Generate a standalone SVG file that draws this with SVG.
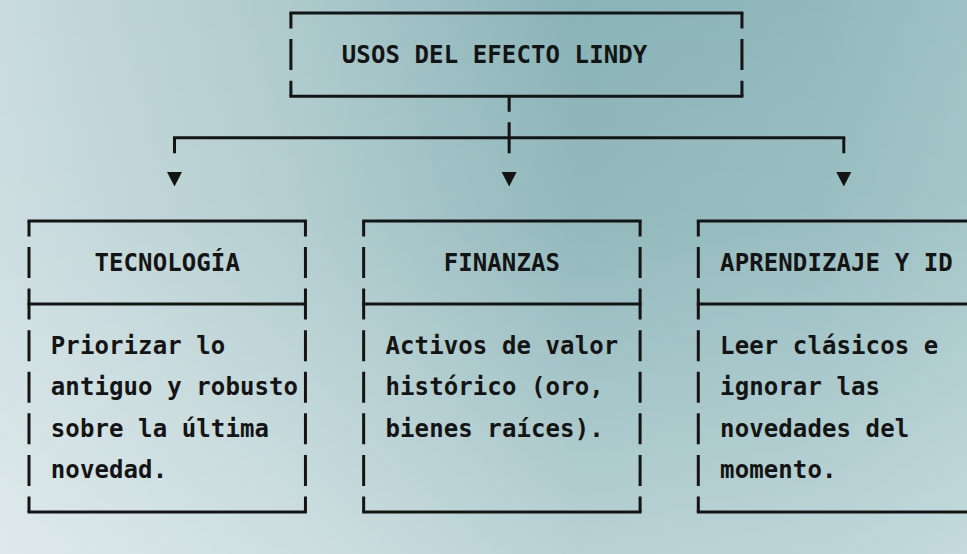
<svg xmlns="http://www.w3.org/2000/svg" width="967" height="554" viewBox="0 0 967 554">
  <defs>
    <linearGradient id="bg" x1="0" y1="0" x2="1" y2="0">
      <stop offset="0" stop-color="#c9dbde"/>
      <stop offset="0.3" stop-color="#aecacd"/>
      <stop offset="0.6" stop-color="#89b3b7"/>
      <stop offset="0.85" stop-color="#91b9bd"/>
      <stop offset="1" stop-color="#9ec2c5"/>
    </linearGradient>
    <linearGradient id="fade" x1="0" y1="0" x2="0" y2="1">
      <stop offset="0" stop-color="#ffffff" stop-opacity="0"/>
      <stop offset="0.4" stop-color="#ffffff" stop-opacity="0.08"/>
      <stop offset="1" stop-color="#ffffff" stop-opacity="0.4"/>
    </linearGradient>
    <style>
      .h { stroke:#141414; stroke-width:3; fill:none; stroke-linecap:square; }
      .v { stroke:#141414; stroke-width:3; fill:none; stroke-dasharray:31 10.58; stroke-dashoffset:15.5; }
      .s { stroke:#141414; stroke-width:3; fill:none; }
      .t { font-family:"DejaVu Sans Mono","Liberation Mono",monospace; font-size:24px; font-weight:bold; fill:#141414; letter-spacing:0.1px; }
      .arr { fill:#141414; }
    </style>
  </defs>

  <rect x="0" y="0" width="967" height="554" fill="url(#bg)"/>
  <rect x="0" y="0" width="967" height="554" fill="url(#fade)"/>

  <g id="node-root">
    <line class="h" x1="290.9" y1="13" x2="741.95" y2="13"/>
    <line class="h" x1="290.9" y1="96.16" x2="741.95" y2="96.16"/>
    <line class="v" x1="290.9" y1="13" x2="290.9" y2="96.16"/>
    <line class="v" x1="741.95" y1="13" x2="741.95" y2="96.16"/>
    <text class="t" x="341.8" y="62.6">USOS DEL EFECTO LINDY</text>
  </g>

  <g id="connectors">
    <line class="v" x1="509.15" y1="96.16" x2="509.15" y2="153.24"/>
    <line class="h" x1="174.5" y1="137.74" x2="843.8" y2="137.74"/>
    <line class="s" x1="174.5" y1="137.74" x2="174.5" y2="153.24"/>
    <line class="s" x1="843.8" y1="137.74" x2="843.8" y2="153.24"/>
    <polygon class="arr" points="167,172 182,172 174.5,186.5"/>
    <polygon class="arr" points="501.65,172 516.65,172 509.15,186.5"/>
    <polygon class="arr" points="836.3,172 851.3,172 843.8,186.5"/>
  </g>

  <g id="node-tecnologia">
    <line class="h" x1="29" y1="220.9" x2="305.45" y2="220.9"/>
    <line class="h" x1="29" y1="304.06" x2="305.45" y2="304.06"/>
    <line class="h" x1="29" y1="511.96" x2="305.45" y2="511.96"/>
    <line class="v" x1="29" y1="220.9" x2="29" y2="511.96"/>
    <line class="v" x1="305.45" y1="220.9" x2="305.45" y2="511.96"/>
    <text class="t" x="94.45" y="270.5">TECNOLOGÍA</text>
    <text class="t" x="50.8" y="353.6">Priorizar lo</text>
    <text class="t" x="50.8" y="395.2">antiguo y robusto</text>
    <text class="t" x="50.8" y="436.8">sobre la última</text>
    <text class="t" x="50.8" y="478.4">novedad.</text>
  </g>

  <g id="node-finanzas">
    <line class="h" x1="363.65" y1="220.9" x2="640.1" y2="220.9"/>
    <line class="h" x1="363.65" y1="304.06" x2="640.1" y2="304.06"/>
    <line class="h" x1="363.65" y1="511.96" x2="640.1" y2="511.96"/>
    <line class="v" x1="363.65" y1="220.9" x2="363.65" y2="511.96"/>
    <line class="v" x1="640.1" y1="220.9" x2="640.1" y2="511.96"/>
    <text class="t" x="443.65" y="270.5">FINANZAS</text>
    <text class="t" x="385.5" y="353.6">Activos de valor</text>
    <text class="t" x="385.5" y="395.2">histórico (oro,</text>
    <text class="t" x="385.5" y="436.8">bienes raíces).</text>
  </g>

  <g id="node-aprendizaje">
    <line class="h" x1="698.3" y1="220.9" x2="974.75" y2="220.9"/>
    <line class="h" x1="698.3" y1="304.06" x2="974.75" y2="304.06"/>
    <line class="h" x1="698.3" y1="511.96" x2="974.75" y2="511.96"/>
    <line class="v" x1="698.3" y1="220.9" x2="698.3" y2="511.96"/>
    <text class="t" x="720.1" y="270.5">APRENDIZAJE Y ID</text>
    <text class="t" x="720.1" y="353.6">Leer clásicos e</text>
    <text class="t" x="720.1" y="395.2">ignorar las</text>
    <text class="t" x="720.1" y="436.8">novedades del</text>
    <text class="t" x="720.1" y="478.4">momento.</text>
  </g>
</svg>
